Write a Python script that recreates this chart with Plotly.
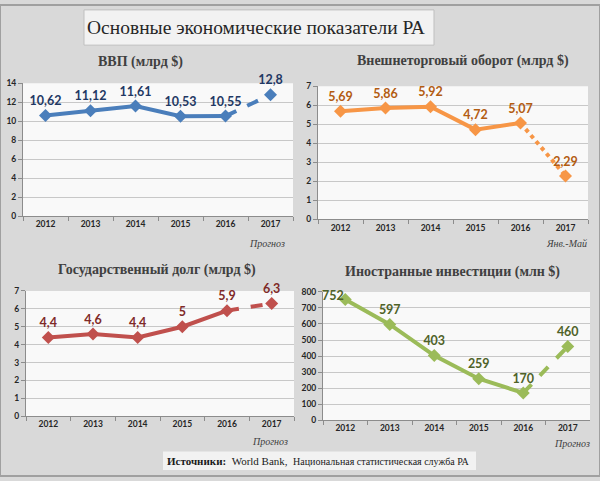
import plotly.graph_objects as go

W, H = 600, 481

years = ["2012", "2013", "2014", "2015", "2016", "2017"]
gdp = [10.62, 11.12, 11.61, 10.53, 10.55, 12.8]
trade = [5.69, 5.86, 5.92, 4.72, 5.07, 2.29]
debt = [4.4, 4.6, 4.4, 5, 5.9, 6.3]
invest = [752, 597, 403, 259, 170, 460]

main_title = "Основные экономические показатели РА"
panel_titles = ["ВВП (млрд $)", "Внешнеторговый оборот (млрд $)",
                "Государственный долг (млрд $)", "Иностранные инвестиции (млн $)"]
notes = ["Прогноз", "Янв.-Май", "Прогноз", "Прогноз"]
source_bold = "Источники:"
source_text = "World Bank,"
source_text2 = "Национальная статистическая служба РА"


def px(x):
    return x / W


def py(y):
    return 1 - y / H


def fmt(v):
    return ("%g" % v).replace(".", ",")


LABEL_SIZE = 12.5

panels = [
    dict(data=gdp, line="#4a7ebb", lab="#1f3864", dash="dash", rng=[0, 14], dt=2,
         xd=[23, 293], yd=[215.7, 80], first_left=False,
         title_xy=(140, 58), note_xy=(267, 244)),
    dict(data=trade, line="#f79646", lab="#b35c12", dash="dot", rng=[0, 7], dt=1,
         xd=[318, 588], yd=[219, 83], first_left=False,
         title_xy=(463, 57), note_xy=(566, 244)),
    dict(data=debt, line="#c0504d", lab="#7f2a28", dash="dash", rng=[0, 7], dt=1,
         xd=[26, 294], yd=[420, 292], first_left=False,
         title_xy=(157, 271), note_xy=(270, 446)),
    dict(data=invest, line="#9bbb59", lab="#4f6228", dash="dash", rng=[0, 800], dt=100,
         xd=[323, 590], yd=[424, 293], first_left=True,
         title_xy=(452, 273), note_xy=(572, 448)),
]

fig = go.Figure()
layout = dict()
annotations = []
shapes = []

for i, p in enumerate(panels):
    n = "" if i == 0 else str(i + 1)
    xa, ya = "x" + n, "y" + n
    d = p["data"]
    texts = [fmt(v) for v in d]
    tf = dict(family="Lato", size=LABEL_SIZE, color=p["lab"], weight="bold")
    solid_text = list(texts[:5])
    if p["first_left"]:
        solid_text[0] = ""
        annotations.append(dict(text="<b>" + texts[0] + "</b>", x=years.index(years[0]), y=d[0],
                                xref=xa, yref=ya, showarrow=False, xanchor="right",
                                yanchor="middle", xshift=1, yshift=4,
                                font=dict(family="Lato", size=LABEL_SIZE, color=p["lab"])))
    # solid part
    fig.add_trace(go.Scatter(
        x=years[:5], y=d[:5], xaxis=xa, yaxis=ya, mode="lines+markers+text",
        line=dict(color=p["line"], width=4),
        marker=dict(symbol="diamond", size=10, color=p["line"], opacity=1, line=dict(width=0)),
        text=solid_text, textposition="top center", textfont=tf,
        cliponaxis=False, showlegend=False, hoverinfo="skip"))
    # forecast part
    fig.add_trace(go.Scatter(
        x=years[4:], y=d[4:], xaxis=xa, yaxis=ya, mode="lines",
        line=dict(color=p["line"], width=4, dash=p["dash"]),
        cliponaxis=False, showlegend=False, hoverinfo="skip"))
    fig.add_trace(go.Scatter(
        x=years[5:], y=d[5:], xaxis=xa, yaxis=ya, mode="markers+text",
        marker=dict(symbol="diamond", size=10, color=p["line"], opacity=1, line=dict(width=0)),
        text=texts[5:], textposition="top center", textfont=tf,
        cliponaxis=False, showlegend=False, hoverinfo="skip"))

    layout["xaxis" + n] = dict(
        domain=[px(p["xd"][0]), px(p["xd"][1])], anchor=ya, type="category",
        range=[-0.5, 5.5], showgrid=False, showline=True, linecolor="#8c8c8c",
        linewidth=1, ticks="outside", ticklen=4, tickcolor="#8c8c8c",
        tickson="boundaries", tickfont=dict(family="Lato", size=8.5, color="#262626", weight="bold"),
        fixedrange=True, zeroline=False)
    layout["yaxis" + n] = dict(
        domain=[py(p["yd"][0]), py(p["yd"][1])], anchor=xa, range=p["rng"], dtick=p["dt"],
        showgrid=True, gridcolor="#c8c8c8", gridwidth=1, showline=True, linecolor="#8c8c8c",
        ticks="outside", ticklen=4, tickcolor="#8c8c8c",
        tickfont=dict(family="Lato", size=8.5, color="#262626", weight="bold"),
        fixedrange=True, zeroline=False)

    shapes.append(dict(type="rect", xref="paper", yref="paper",
                       x0=px(p["xd"][0]), x1=px(p["xd"][1]),
                       y0=py(p["yd"][0]), y1=py(p["yd"][1]),
                       fillcolor="#f9f9f9", line=dict(width=0), layer="below"))

    annotations.append(dict(
        text="<b>" + panel_titles[i] + "</b>", x=px(p["title_xy"][0]), y=py(p["title_xy"][1]),
        xref="paper", yref="paper", showarrow=False, xanchor="center", yanchor="middle",
        font=dict(family="Liberation Serif", size=14, color="#404040")))
    annotations.append(dict(
        text="<i>" + notes[i] + "</i>", x=px(p["note_xy"][0]), y=py(p["note_xy"][1]),
        xref="paper", yref="paper", showarrow=False, xanchor="center", yanchor="middle",
        font=dict(family="Liberation Serif", size=10, color="#404040")))

# title box
shapes.append(dict(type="rect", xref="paper", yref="paper", x0=px(84), x1=px(434),
                   y0=py(41), y1=py(5), fillcolor="#f2f2f2",
                   line=dict(color="#bfbfbf", width=1), layer="below"))
annotations.append(dict(text=main_title, x=px(256), y=py(23), xref="paper", yref="paper",
                        showarrow=False, xanchor="center", yanchor="middle",
                        font=dict(family="Liberation Serif", size=19.5, color="#262626")))

# source box
shapes.append(dict(type="rect", xref="paper", yref="paper", x0=px(163), x1=px(476),
                   y0=py(475), y1=py(456), fillcolor="#f2f2f2",
                   line=dict(width=0), layer="below"))
annotations.append(dict(
    text="<b>" + source_bold + "</b>  " + source_text + "  <span style='font-size:10px'>" + source_text2 + "</span>",
    x=px(318), y=py(466), xref="paper", yref="paper", showarrow=False,
    xanchor="center", yanchor="middle",
    font=dict(family="Liberation Serif", size=11, color="#1a1a1a")))

# outer border
shapes.append(dict(type="rect", xref="paper", yref="paper", x0=0, x1=1, y0=0, y1=1,
                   line=dict(color="#a0a0a0", width=2), fillcolor="rgba(0,0,0,0)"))

fig.update_layout(
    width=W, height=H, margin=dict(l=0, r=0, t=0, b=0),
    paper_bgcolor="#d9d9d9", plot_bgcolor="rgba(0,0,0,0)",
    shapes=shapes, annotations=annotations, showlegend=False, **layout)

fig.write_html("out.html", config=dict(displayModeBar=False, staticPlot=True),
               post_script="document.body.style.margin='0';document.body.style.overflow='hidden';")
